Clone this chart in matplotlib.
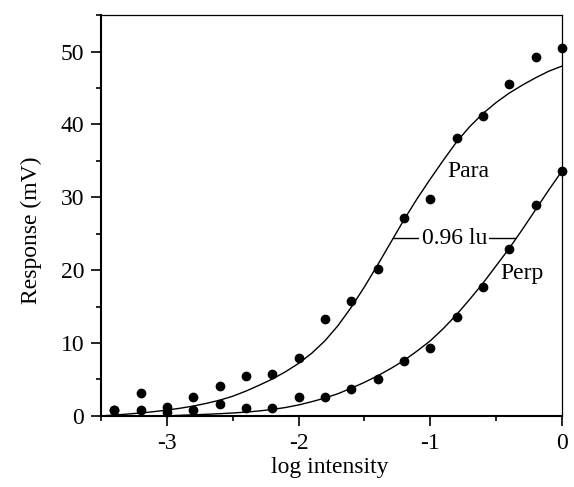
import matplotlib
matplotlib.use("Agg")
import matplotlib.pyplot as plt
from matplotlib.ticker import MultipleLocator

# measured points
LOG_I = [-3.4, -3.2, -3.0, -2.8, -2.6, -2.4, -2.2, -2.0, -1.8,
         -1.6, -1.4, -1.2, -1.0, -0.8, -0.6, -0.4, -0.2, 0.0]
PARA_PTS = [0.8, 3.2, 1.2, 2.6, 4.1, 5.5, 5.8, 7.9, 13.3,
            15.7, 20.2, 27.2, 29.8, 38.2, 41.1, 45.5, 49.3, 50.5]
PERP_PTS = [0.8, 0.8, 0.5, 0.8, 1.7, 1.1, 1.1, 2.6, 2.6,
            3.7, 5.1, 7.6, 9.3, 13.6, 17.7, 22.9, 29.0, 33.6]

# fitted curves
PARA_X = [-3.5, -3.4, -3.3, -3.2, -3.1, -3.0, -2.9, -2.8, -2.7, -2.6, -2.5, -2.4,
          -2.3, -2.2, -2.1, -2.0, -1.9, -1.8, -1.7, -1.6, -1.5, -1.4, -1.3, -1.2,
          -1.1, -1.0, -0.9, -0.8, -0.7, -0.6, -0.5, -0.4, -0.3, -0.2, -0.1, 0.0]
PARA_FIT = [0.0, 0.12, 0.25, 0.4, 0.58, 0.8, 1.05, 1.35, 1.72, 2.15, 2.7, 3.4,
            4.2, 5.05, 6.05, 7.2, 8.6, 10.3, 12.4, 14.9, 17.7, 20.7, 23.8, 26.9,
            29.8, 32.5, 35.1, 37.6, 39.7, 41.5, 43.0, 44.3, 45.4, 46.4, 47.3, 48.0]
PERP_X = [-3.0, -2.9, -2.8, -2.7, -2.6, -2.5, -2.4, -2.3, -2.2, -2.1, -2.0,
          -1.9, -1.8, -1.7, -1.6, -1.5, -1.4, -1.3, -1.2, -1.1, -1.0,
          -0.9, -0.8, -0.7, -0.6, -0.5, -0.4, -0.3, -0.2, -0.1, 0.0]
PERP_FIT = [0.0, 0.08, 0.15, 0.22, 0.3, 0.4, 0.52, 0.68, 0.88, 1.15, 1.5,
            1.95, 2.45, 3.05, 3.8, 4.6, 5.5, 6.5, 7.6, 8.9, 10.3,
            12.0, 13.9, 16.0, 18.2, 20.6, 23.0, 25.6, 28.3, 31.0, 33.6]

# horizontal shift marker between the curves
SHIFT_Y = 24.4
SHIFT_X = [-1.28, -0.355]
SHIFT_LABEL = "0.96 lu"

plt.rcParams["font.family"] = ["Liberation Serif", "DejaVu Serif"]
plt.rcParams["font.size"] = 17
plt.rcParams["axes.unicode_minus"] = False


def main() -> None:
    fig = plt.figure(figsize=(5.74, 4.87), dpi=100)
    ax = fig.add_axes([0.176, 0.146, 0.803, 0.823])

    ax.plot(PARA_X, PARA_FIT, color="black", lw=1.0)
    ax.plot(PERP_X, PERP_FIT, color="black", lw=1.0)
    ax.plot(LOG_I, PARA_PTS, "o", color="black", ms=6, clip_on=False)
    ax.plot(LOG_I, PERP_PTS, "o", color="black", ms=6, clip_on=False)

    ax.plot(SHIFT_X, [SHIFT_Y, SHIFT_Y], color="black", lw=1.0)
    ax.text(sum(SHIFT_X) / 2, SHIFT_Y, SHIFT_LABEL, ha="center", va="center",
            bbox=dict(facecolor="white", edgecolor="none", pad=1.5))
    ax.text(-0.71, 33.6, "Para", ha="center", va="center")
    ax.text(-0.30, 19.5, "Perp", ha="center", va="center")

    ax.set_xlim(-3.5, 0.0)
    ax.set_ylim(0, 55)
    ax.xaxis.set_major_locator(MultipleLocator(1))
    ax.xaxis.set_minor_locator(MultipleLocator(0.5))
    ax.yaxis.set_major_locator(MultipleLocator(10))
    ax.yaxis.set_minor_locator(MultipleLocator(5))
    ax.tick_params(which="major", direction="out", length=7, width=1.2, pad=5)
    ax.tick_params(which="minor", direction="out", length=3.5, width=1.2)
    ax.tick_params(axis="x", pad=5)

    for side in ("left", "bottom"):
        ax.spines[side].set_linewidth(1.5)
    for side in ("top", "right"):
        ax.spines[side].set_linewidth(0.9)

    ax.set_xlabel("log intensity")
    ax.set_ylabel("Response (mV)")
    ax.xaxis.set_label_coords(0.497, -0.102)
    ax.yaxis.set_label_coords(-0.128, 0.464)

    fig.savefig("out.png", dpi=100)
    plt.close(fig)


if __name__ == "__main__":
    main()
